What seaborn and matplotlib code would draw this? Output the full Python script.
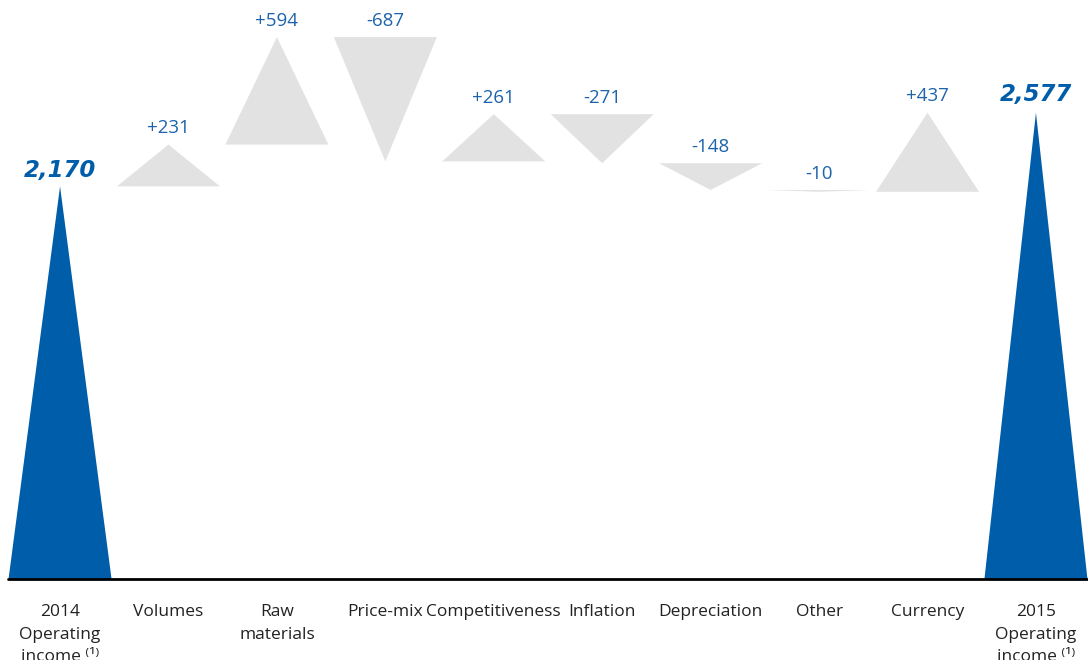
import matplotlib
matplotlib.use("Agg")
import matplotlib.pyplot as plt
import seaborn as sns

# Données du graphique
categories = ["2014\nOperating\nincome \u207d\u00b9\u207e", "Volumes", "Raw\nmaterials", "Price-mix",
              "Competitiveness", "Inflation", "Depreciation", "Other", "Currency",
              "2015\nOperating\nincome \u207d\u00b9\u207e"]
inici = 2170
variacions = [231, 594, -687, 261, -271, -148, -10, 437]
final = 2577

blau = "#005daa"
blau_text = "#1c63ab"
gris = "#e2e2e2"

sns.set_theme(style="white")
plt.rcParams["font.family"] = ["Open Sans", "DejaVu Sans"]

fig = plt.figure(figsize=(10.88, 6.6), dpi=100)
ax = fig.add_axes([8 / 1088, 81 / 660, 1080 / 1088, 579 / 660])

mig = 0.475

# Columna inicial
ax.fill([0 - mig, 0, 0 + mig], [0, inici, 0], color=blau, lw=0)
ax.text(0, inici + 25, f"{inici:,}", ha="center", va="bottom", color=blau,
        fontsize=16.5, fontweight="heavy", fontstyle="italic", family="DejaVu Sans")

# Variacions
nivell = inici
for i, v in enumerate(variacions, start=1):
    nou = nivell + v
    ax.fill([i - mig, i, i + mig], [nivell, nou, nivell], color=gris, lw=0)
    signe = "+" if v > 0 else "-"
    ax.text(i, max(nivell, nou) + 40, f"{signe}{abs(v)}", ha="center", va="bottom",
            color=blau_text, fontsize=13.5)
    nivell = nou

# Columna final
n = len(categories) - 1
ax.fill([n - mig, n, n + mig], [0, final, 0], color=blau, lw=0)
ax.text(n, final + 35, f"{final:,}", ha="center", va="bottom", color=blau,
        fontsize=16.5, fontweight="heavy", fontstyle="italic", family="DejaVu Sans")

ax.axhline(0, color="black", lw=2, clip_on=False)
ax.set_xlim(-0.48, n + 0.48)
ax.set_ylim(0, 3200)
ax.set_xticks(range(len(categories)))
ax.set_xticklabels(categories, fontsize=12.5, color="#222222", linespacing=1.55)
ax.tick_params(axis="x", length=0, pad=18)
ax.set_yticks([])
sns.despine(ax=ax, left=True, bottom=True)

fig.savefig("out.png", dpi=100)
